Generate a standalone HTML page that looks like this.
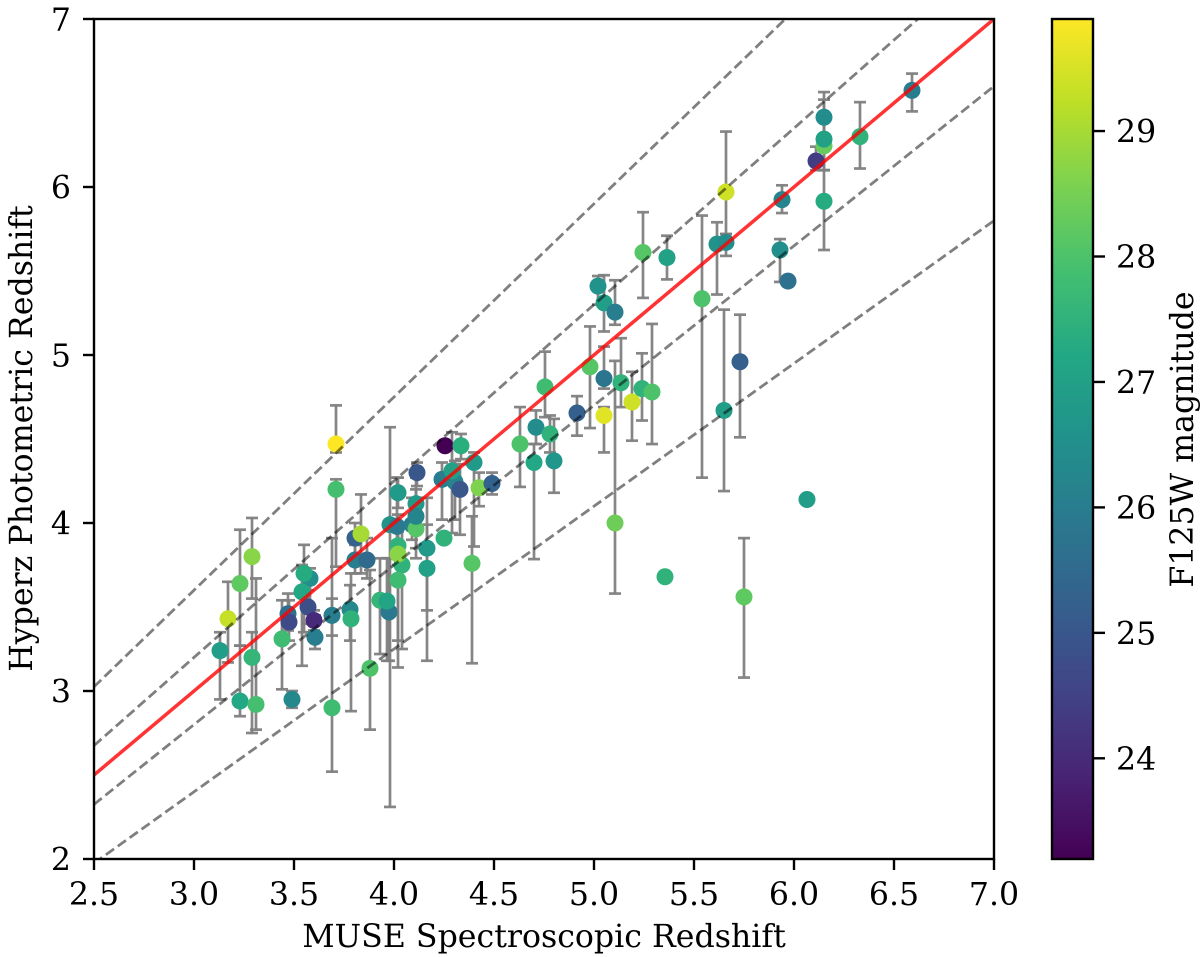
<!DOCTYPE html>
<html lang="en">
<head>
<meta charset="utf-8">
<title>Hyperz vs MUSE redshift</title>
<style>
html,body{margin:0;padding:0;background:#fff;}
svg{display:block;filter:blur(0.35px);}
text{font-family:"DejaVu Serif","Liberation Serif",serif;fill:#000;}
</style>
</head>
<body>
<svg id="chart" xmlns="http://www.w3.org/2000/svg" width="1200" height="957" viewBox="0 0 1200 957">
  <defs>
    <linearGradient id="viridis-gradient" x1="0" y1="1" x2="0" y2="0"></linearGradient>
    <clipPath id="plot-clip"><rect x="94" y="19" width="900" height="840"></rect></clipPath>
  </defs>
  <rect x="0" y="0" width="1200" height="957" fill="#fff"></rect>
  <g id="errorbars" clip-path="url(#plot-clip)"></g>
  <g id="points" clip-path="url(#plot-clip)"></g>
  <g id="lines" clip-path="url(#plot-clip)"></g>
  <rect x="94" y="19" width="900" height="840" fill="none" stroke="#000" stroke-width="2.4"></rect>
  <g id="xticks"></g>
  <g id="yticks"></g>
  <text x="544" y="947" font-size="31.6" text-anchor="middle">MUSE Spectroscopic Redshift</text>
  <text x="0" y="0" font-size="31.6" text-anchor="middle" transform="translate(32,438.5) rotate(-90)">Hyperz Photometric Redshift</text>
  <rect x="1052" y="19" width="41" height="840" fill="url(#viridis-gradient)" stroke="#000" stroke-width="2.4"></rect>
  <g id="cbticks"></g>
  <text x="0" y="0" font-size="31.6" text-anchor="middle" transform="translate(1193,439.5) rotate(-90)">F125W magnitude</text>
</svg>
<script>
var xTickLabels = ["2.5","3.0","3.5","4.0","4.5","5.0","5.5","6.0","6.5","7.0"];
var yTickLabels = ["2","3","4","5","6","7"];
var colorbarTickLabels = ["24","25","26","27","28","29"];
var xDomain = [2.5, 7.0];
var yDomain = [2, 7];
var magDomain = [23.2, 29.89];
var outlierFractions = [0.15, 0.05, -0.05, -0.15];

var zSpec = [
 3.13,3.17,3.23,3.23,3.29,3.29,3.31,3.44,3.49,3.47,
 3.475,3.58,3.55,3.54,3.57,3.60,3.605,3.78,3.785,3.69,
 3.69,3.71,3.71,3.805,3.805,3.835,3.865,3.88,3.93,3.975,
 3.965,3.98,4.015,4.02,4.02,4.04,4.02,4.02,4.115,4.09,
 4.11,4.11,4.11,4.165,4.165,4.25,4.255,4.335,4.24,4.305,
 4.29,4.33,4.40,4.39,4.425,4.49,4.63,4.71,4.70,4.755,
 4.78,4.80,4.915,4.98,5.02,5.05,5.105,5.05,5.05,5.105,
 5.135,5.19,5.24,5.29,5.245,5.365,5.355,5.54,5.615,5.66,
 5.66,5.65,5.73,5.94,5.93,5.97,6.15,6.15,6.15,6.11,
 6.15,6.33,6.59,6.065,5.75
];
var zPhot = [
 3.24,3.43,3.64,2.94,3.80,3.20,2.92,3.31,2.95,3.46,
 3.41,3.67,3.70,3.59,3.50,3.42,3.32,3.485,3.43,3.45,
 2.90,4.47,4.20,3.91,3.78,3.935,3.78,3.135,3.54,3.47,
 3.535,3.99,3.98,4.18,3.865,3.75,3.66,3.815,4.30,3.99,
 3.965,4.115,4.04,3.85,3.73,3.91,4.46,4.46,4.26,4.245,
 4.31,4.20,4.36,3.76,4.21,4.235,4.47,4.57,4.36,4.81,
 4.53,4.37,4.655,4.93,5.41,5.31,5.255,4.86,4.64,4.00,
 4.835,4.72,4.80,4.78,5.61,5.58,3.68,5.335,5.66,5.67,
 5.97,4.67,4.96,5.925,5.625,5.44,6.245,6.415,6.285,6.155,
 5.915,6.30,6.575,4.14,3.56
];
var upperCap = [
 3.35,3.65,3.96,3.27,4.03,3.35,3.67,3.54,3.00,3.58,
 3.54,3.73,3.87,3.75,3.60,3.48,3.45,3.63,3.70,3.91,
 3.55,4.70,4.26,4.00,3.87,4.17,3.91,3.72,3.79,3.79,
 3.79,4.57,4.27,4.27,4.05,3.98,3.85,3.95,4.36,4.15,
 4.15,4.27,4.20,4.15,3.99,null,null,4.53,4.36,4.37,
 4.54,4.35,4.42,4.04,4.30,4.30,4.69,4.67,4.47,5.02,
 4.64,4.62,4.755,5.17,5.47,5.475,5.445,5.05,4.69,4.965,
 5.10,4.90,5.01,5.185,5.85,5.71,null,5.83,5.79,5.72,
 6.33,5.27,5.24,6.01,5.69,null,6.40,6.565,6.52,6.24,
 6.10,6.505,6.675,null,3.91
];
var lowerCap = [
 2.95,3.17,3.27,2.85,3.55,2.75,2.77,3.01,2.90,3.36,
 3.30,3.50,3.35,3.15,3.40,3.36,3.25,3.30,2.88,3.33,
 2.52,4.42,3.74,3.75,3.70,3.70,3.67,2.77,3.22,3.18,
 3.18,2.31,3.88,4.09,3.75,3.25,3.14,3.30,4.22,3.90,
 3.79,4.00,3.85,3.48,3.18,null,null,4.38,4.02,4.02,
 3.94,3.93,3.86,3.165,4.10,4.17,4.215,4.47,3.785,4.63,
 4.42,4.18,4.52,4.565,5.30,5.14,5.18,4.80,4.42,3.58,
 4.69,4.49,4.61,4.47,5.34,5.45,null,4.27,5.36,5.59,
 5.72,4.19,4.51,5.845,5.435,null,6.10,6.30,6.10,6.10,
 5.625,6.11,6.45,null,3.08
];
var magnitude = [
 26.9,29.3,28.2,27.2,28.7,27.6,27.9,27.8,26.3,25.6,
 24.7,26.5,27.3,27.2,24.8,24.0,26.0,26.3,27.5,26.0,
 27.8,29.89,27.9,25.3,26.0,29.0,25.5,28.0,27.6,25.9,
 27.1,26.6,25.9,26.8,27.5,27.5,27.8,28.7,25.0,26.0,
 28.1,26.8,26.2,26.8,27.0,27.5,23.2,27.4,26.0,26.2,
 27.0,25.0,26.8,28.1,28.6,25.3,28.0,26.4,27.2,27.8,
 27.5,26.7,25.2,28.1,26.6,26.9,26.0,25.8,29.6,28.4,
 27.5,29.4,27.5,28.0,28.1,27.0,27.5,28.0,26.6,26.4,
 29.4,26.9,25.2,26.2,26.5,25.7,28.3,26.4,27.0,24.4,
 27.3,27.5,26.0,26.9,28.2
];
var viridisStops = ["#440154","#482475","#414487","#355f8d","#2a788e","#21918c","#22a884","#44bf70","#7ad151","#bddf26","#fde725"];

var SVG_NS = "http://www.w3.org/2000/svg";
function xScale(v){ return 94 + (v - xDomain[0]) / (xDomain[1] - xDomain[0]) * 900; }
function yScale(v){ return 859 - (v - yDomain[0]) / (yDomain[1] - yDomain[0]) * 840; }
function magScale(v){ return 758.3 - (v - 24) * 125.45; }
function hexToRgb(h){ return [parseInt(h.substr(1,2),16),parseInt(h.substr(3,2),16),parseInt(h.substr(5,2),16)]; }
function viridis(t){
  t = Math.max(0, Math.min(1, t));
  var p = t * (viridisStops.length - 1);
  var i = Math.min(Math.floor(p), viridisStops.length - 2);
  var f = p - i;
  var a = hexToRgb(viridisStops[i]);
  var b = hexToRgb(viridisStops[i + 1]);
  return "rgb(" + Math.round(a[0]+(b[0]-a[0])*f) + "," + Math.round(a[1]+(b[1]-a[1])*f) + "," + Math.round(a[2]+(b[2]-a[2])*f) + ")";
}
function magColor(m){ return viridis((m - magDomain[0]) / (magDomain[1] - magDomain[0])); }
function make(tag, parent, attrs){
  var el = document.createElementNS(SVG_NS, tag);
  for (var k in attrs) { el.setAttribute(k, attrs[k]); }
  parent.appendChild(el);
  return el;
}

var gradient = document.getElementById("viridis-gradient");
viridisStops.forEach(function(c, i){
  make("stop", gradient, {offset: (i / (viridisStops.length - 1) * 100) + "%", "stop-color": c});
});

var errGroup = document.getElementById("errorbars");
var pointGroup = document.getElementById("points");
var lineGroup = document.getElementById("lines");

zSpec.forEach(function(z, i){
  if (upperCap[i] === null || lowerCap[i] === null) { return; }
  var px = xScale(z);
  var top = yScale(upperCap[i]);
  var bot = yScale(lowerCap[i]);
  var style = {stroke: "#808080", "stroke-opacity": "0.95", "stroke-width": "2.7"};
  var bar = make("line", errGroup, Object.assign({x1: px, x2: px, y1: top, y2: bot}, style));
  
  
  [top, bot].forEach(function(cy){
    var cap = make("line", errGroup, Object.assign({x1: px - 6, x2: px + 6, y1: cy, y2: cy}, style));
    
    
  });
});

zSpec.forEach(function(z, i){
  var c = make("circle", pointGroup, {cx: xScale(z), cy: yScale(zPhot[i]), r: 8.5, fill: magColor(magnitude[i])});
  
  
});

outlierFractions.forEach(function(f){
  var l = make("line", lineGroup, {
    x1: xScale(2.5), y1: yScale(2.5 + f * 3.5),
    x2: xScale(7), y2: yScale(7 + f * 8),
    stroke: "#000", "stroke-opacity": "0.5", "stroke-width": "2.8", "stroke-dasharray": "10 4.6"
  });
  
  
});
var oneToOne = make("line", lineGroup, {
  x1: xScale(2.5), y1: yScale(2.5), x2: xScale(7), y2: yScale(7),
  stroke: "#ff0000", "stroke-opacity": "0.8", "stroke-width": "3.5"
});



var xGroup = document.getElementById("xticks");
xTickLabels.forEach(function(label){
  var px = xScale(parseFloat(label));
  var t = make("line", xGroup, {x1: px, x2: px, y1: 859, y2: 870, stroke: "#000", "stroke-width": "2.4"});
  
  
  var s = make("text", xGroup, {x: px, y: 905, "font-size": "31.6", "text-anchor": "middle"});
  s.textContent = label;
  
  
});

var yGroup = document.getElementById("yticks");
yTickLabels.forEach(function(label){
  var py = yScale(parseFloat(label));
  var t = make("line", yGroup, {x1: 83, x2: 94, y1: py, y2: py, stroke: "#000", "stroke-width": "2.4"});
  
  
  var s = make("text", yGroup, {x: 71, y: py + 11.5, "font-size": "31.6", "text-anchor": "end"});
  s.textContent = label;
  
  
});

var cbGroup = document.getElementById("cbticks");
colorbarTickLabels.forEach(function(label){
  var py = magScale(parseFloat(label));
  var t = make("line", cbGroup, {x1: 1093, x2: 1105, y1: py, y2: py, stroke: "#000", "stroke-width": "2.4"});
  
  
  var s = make("text", cbGroup, {x: 1116, y: py + 11.5, "font-size": "31.6", "text-anchor": "start"});
  s.textContent = label;
  
  
});
</script>
</body>
</html>
